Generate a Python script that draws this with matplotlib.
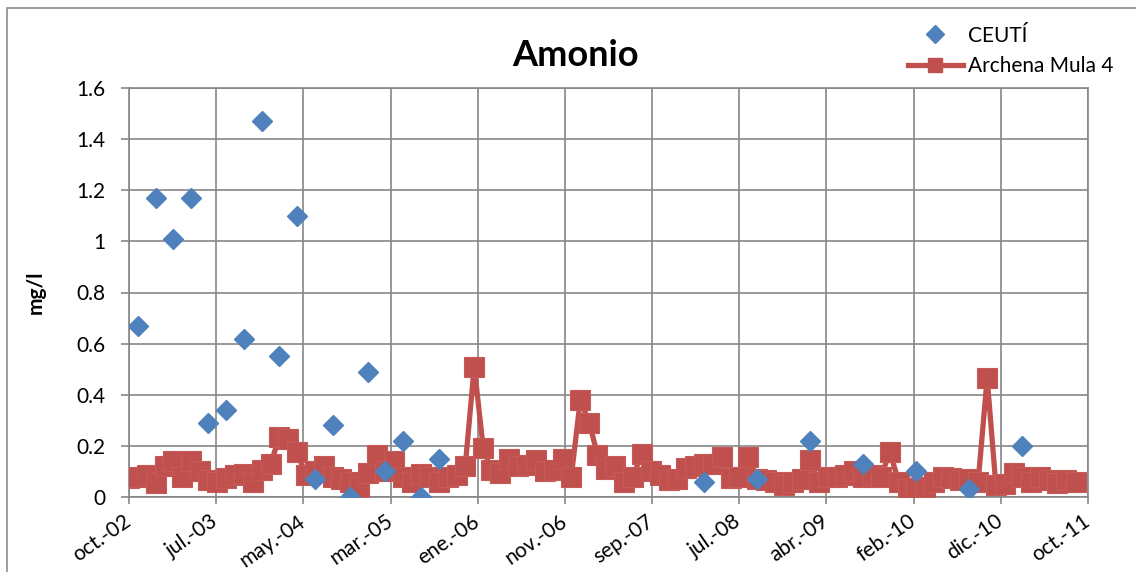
import matplotlib
matplotlib.use("Agg")
import matplotlib.pyplot as plt
from matplotlib.patches import Rectangle
from matplotlib.lines import Line2D
import pandas as pd

plt.rcParams['font.family'] = ['Lato', 'DejaVu Sans']

# ---- data ----
title = "Amonio"
ylabel = "mg/l"
ceuti_label = "CEUTÍ"
archena_label = "Archena Mula 4"

ceuti_dates = ["2002-11-01", "2003-01-01", "2003-03-01", "2003-05-01", "2003-07-01",
               "2003-09-01", "2003-11-01", "2004-01-01", "2004-03-01", "2004-05-01",
               "2004-07-01", "2004-09-01", "2004-11-01", "2005-01-01", "2005-03-01",
               "2005-05-01", "2005-07-01", "2005-09-01", "2008-03-01", "2008-09-01",
               "2009-03-01", "2009-09-01", "2010-03-01", "2010-09-01", "2011-03-01"]
ceuti_values = [0.67, 1.17, 1.01, 1.17, 0.29, 0.34, 0.62, 1.47, 0.55, 1.10,
                0.07, 0.28, 0.00, 0.49, 0.10, 0.22, 0.00, 0.15, 0.06, 0.07,
                0.22, 0.13, 0.10, 0.03, 0.20]

archena_start = "2002-10-01"   # monthly samples
archena_values = [
    0.075, 0.08, 0.085, 0.055, 0.12, 0.14, 0.08, 0.14, 0.10, 0.065,
    0.06, 0.075, 0.085, 0.09, 0.06, 0.105, 0.13, 0.235, 0.225, 0.175,
    0.085, 0.10, 0.12, 0.08, 0.07, 0.06, 0.04, 0.095, 0.165, 0.10,
    0.14, 0.08, 0.06, 0.09, 0.08, 0.06, 0.08, 0.085, 0.12, 0.51,
    0.19, 0.105, 0.095, 0.15, 0.12, 0.125, 0.145, 0.10, 0.105, 0.15,
    0.08, 0.38, 0.29, 0.165, 0.11, 0.12, 0.06, 0.08, 0.17, 0.10,
    0.085, 0.065, 0.07, 0.115, 0.12, 0.13, 0.13, 0.155, 0.075, 0.08,
    0.155, 0.07, 0.065, 0.06, 0.045, 0.06, 0.07, 0.145, 0.06, 0.08,
    0.08, 0.085, 0.10, 0.08, 0.085, 0.08, 0.175, 0.06, 0.03, 0.035,
    0.04, 0.06, 0.08, 0.075, 0.065, 0.07, 0.06, 0.465, 0.045, 0.05,
    0.095, 0.08, 0.06, 0.08, 0.065, 0.055, 0.065, 0.06]

x_tick_labels = ["oct.-02", "jul.-03", "may.-04", "mar.-05", "ene.-06", "nov.-06",
                 "sep.-07", "jul.-08", "abr.-09", "feb.-10", "dic.-10", "oct.-11"]
axis_start = "2002-10-01"
tick_step_days = 300
y_ticks = [0, 0.2, 0.4, 0.6, 0.8, 1.0, 1.2, 1.4, 1.6]
y_tick_labels = ["0", "0.2", "0.4", "0.6", "0.8", "1", "1.2", "1.4", "1.6"]

# ---- figure ----
W, H = 1136, 572
fig = plt.figure(figsize=(W / 100, H / 100), dpi=100)
ax = fig.add_axes([129 / W, 1 - 497 / H, (1088 - 129) / W, (497 - 88) / H])

ceuti_x = pd.to_datetime(ceuti_dates)
arch_x = pd.date_range(archena_start, periods=len(archena_values), freq="MS")

red = "#C0504D"
blue = "#4F81BD"

ax.plot(arch_x, archena_values, color=red, lw=3.8, marker="s", markersize=14,
        markerfacecolor=red, markeredgecolor="#C65A57", markeredgewidth=0.8,
        zorder=3, solid_joinstyle="round")
ax.plot(ceuti_x, ceuti_values, linestyle="none", marker="D", markersize=10.5,
        color=blue, markeredgecolor=blue, zorder=4)

start = pd.Timestamp(axis_start)
tick_dates = [start + pd.Timedelta(days=tick_step_days * k) for k in range(len(x_tick_labels))]
ax.set_xlim(tick_dates[0], tick_dates[-1])
ax.set_ylim(0, 1.6)
ax.set_xticks(tick_dates)
ax.set_xticklabels(x_tick_labels, rotation=35, ha="right", va="center",
                   rotation_mode="anchor", fontsize=15)
ax.set_yticks(y_ticks)
ax.set_yticklabels(y_tick_labels, fontsize=15)
ax.tick_params(axis="x", length=5, width=1.2, color="#868686", pad=11)
ax.tick_params(axis="y", length=6, width=1.2, color="#868686", pad=11)

ax.grid(True, color="#868686", lw=1.2)
ax.set_axisbelow(True)
for s in ax.spines.values():
    s.set_color("#868686")
    s.set_linewidth(1.2)

ax.set_ylabel(ylabel, fontsize=15, fontweight="bold", labelpad=22)
fig.text(575 / W, 1 - 55 / H, title, fontsize=26, fontweight="bold",
         ha="center", va="center")

# legend
h_ceuti = Line2D([], [], linestyle="none", marker="D", markersize=9,
                 color=blue, markeredgecolor=blue)
h_arch = Line2D([], [], color=red, lw=3.8, marker="s", markersize=10,
                markerfacecolor=red, markeredgecolor=red)
fig.legend([h_ceuti, h_arch], [ceuti_label, archena_label], loc="upper left",
           bbox_to_anchor=(889 / W, 1 - 7 / H), frameon=False, fontsize=15,
           handlelength=2.65, handletextpad=0.25, labelspacing=0.5, numpoints=1)

# chart border
fig.patches.append(Rectangle((7 / W, -0.05), 1.2, 1 - 8 / H + 0.05,
                             transform=fig.transFigure, fill=False,
                             edgecolor="#8C8C8C", lw=1.2))

fig.savefig("out.png", dpi=100)
